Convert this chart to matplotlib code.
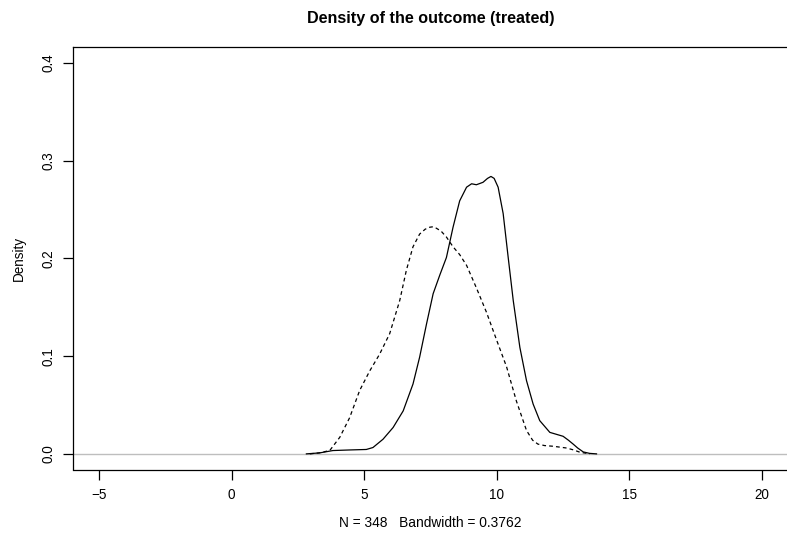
import matplotlib
matplotlib.use("Agg")
import matplotlib.pyplot as plt
import numpy as np

plt.rcParams['font.family'] = ['Liberation Sans', 'DejaVu Sans']

# Solid curve
solid_x = [2.82, 3.32, 3.82, 4.45, 5.08, 5.33, 5.71, 6.09, 6.47, 6.84, 7.09, 7.35, 7.60,
           7.85, 8.10, 8.35, 8.60, 8.86, 9.05, 9.23, 9.48, 9.65, 9.78, 9.90, 10.05, 10.24,
           10.43, 10.62, 10.87, 11.12, 11.37, 11.62, 12.0, 12.25, 12.50, 12.70, 12.88,
           13.05, 13.26, 13.50, 13.76]
solid_y = [0.0, 0.001, 0.0034, 0.004, 0.0045, 0.0065, 0.015, 0.027, 0.044, 0.0715, 0.099,
           0.133, 0.164, 0.183, 0.201, 0.232, 0.259, 0.273, 0.2765, 0.2755, 0.278, 0.282,
           0.284, 0.282, 0.273, 0.246, 0.201, 0.157, 0.109, 0.075, 0.051, 0.034, 0.022,
           0.020, 0.018, 0.014, 0.010, 0.006, 0.002, 0.0005, 0.0]

# Dashed curve
dash_x = [2.95, 3.30, 3.70, 4.08, 4.45, 4.83, 5.21, 5.58, 5.96, 6.34, 6.59, 6.84, 7.09,
          7.30, 7.47, 7.60, 7.72, 7.90, 8.10, 8.35, 8.60, 8.86, 9.23, 9.61, 10.00, 10.37,
          10.74, 11.12, 11.35, 11.55, 11.80, 12.12, 12.63, 12.90, 13.13, 13.51]
dash_y = [0.0, 0.001, 0.0034, 0.017, 0.037, 0.065, 0.085, 0.102, 0.123, 0.157, 0.188,
          0.212, 0.225, 0.230, 0.232, 0.2325, 0.231, 0.228, 0.222, 0.212, 0.204, 0.193,
          0.170, 0.145, 0.116, 0.089, 0.054, 0.024, 0.014, 0.010, 0.0085, 0.0078, 0.006,
          0.004, 0.0017, 0.0]

x_ticks = [-5, 0, 5, 10, 15, 20]
y_ticks = [0.0, 0.1, 0.2, 0.3, 0.4]
y_ticklabels = ["0.0", "0.1", "0.2", "0.3", "0.4"]

W, H = 787, 534
fig = plt.figure(figsize=(W / 100, H / 100), dpi=100)
# plot region extends slightly past the right edge of the image (as in the reference)
left, right, top, bottom = 72.5, 788.5, 47.5, 469.5
ax = fig.add_axes([left / W, 1 - bottom / H, (right - left) / W, (bottom - top) / H])

ax.axhline(0, color='#bebebe', lw=1.0, zorder=1)
ax.plot(solid_x, solid_y, color='black', lw=0.9, zorder=3, solid_joinstyle='round')
ax.plot(dash_x, dash_y, color='black', lw=0.9, ls=(0, (3, 2.5)), zorder=3)

ax.set_xlim(-6.0, 21.0)
ax.set_ylim(-0.016, 0.416)

ax.set_xticks(x_ticks)
ax.set_xticklabels([("\u2212" + str(-t)) if t < 0 else str(t) for t in x_ticks])
ax.set_yticks(y_ticks)
ax.set_yticklabels(y_ticklabels, rotation=90, va='center')

for s in ax.spines.values():
    s.set_linewidth(0.9)
ax.tick_params(direction='out', length=7, width=0.9, labelsize=9.75, pad=6.5)
ax.tick_params(axis='y', pad=5.5)

ax.set_title("Density of the outcome (treated)", fontsize=11.6, fontweight='bold', pad=17.5)
ax.set_xlabel("N = 348   Bandwidth = 0.3762", fontsize=9.9, labelpad=10)
ax.set_ylabel("Density", fontsize=9.75, labelpad=11)

fig.savefig("out.png", dpi=100)
